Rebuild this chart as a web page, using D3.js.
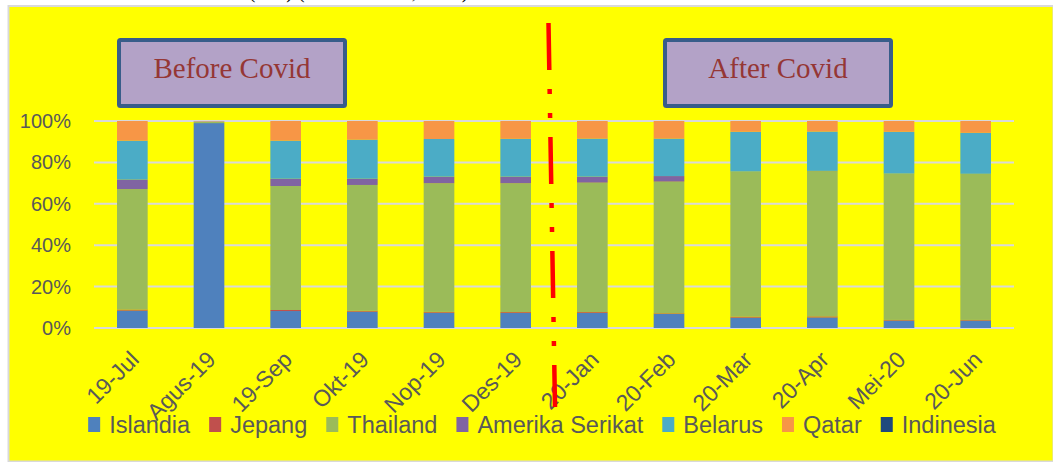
<!DOCTYPE html>
<html>
<head>
<meta charset="utf-8">
<script src="https://cdn.jsdelivr.net/npm/d3@7/dist/d3.min.js"></script>
<style>
  html, body { margin: 0; padding: 0; background: #ffffff; }
  svg { display: block; }
</style>
</head>
<body>
<svg id="chart" width="1053" height="462"></svg>
<script>
// ---------- data ----------
const categories = ["19-Jul", "Agus-19", "19-Sep", "Okt-19", "Nop-19", "Des-19",
                    "20-Jan", "20-Feb", "20-Mar", "20-Apr", "Mei-20", "20-Jun"];
const seriesNames = ["Islandia", "Jepang", "Thailand", "Amerika Serikat", "Belarus", "Qatar", "Indinesia"];
const islandia  = [8.4, 99.2, 8.2, 7.9, 7.4, 7.3, 7.3, 6.8, 5.0, 5.1, 3.6, 3.6];
const jepang    = [0.5, 0.0, 0.5, 0.4, 0.4, 0.4, 0.4, 0.3, 0.5, 0.5, 0.3, 0.3];
const thailand  = [58.2, 0.6, 59.9, 60.8, 62.1, 62.2, 62.5, 63.6, 70.0, 70.2, 70.6, 70.5];
const amerika   = [4.6, 0.1, 3.5, 3.0, 3.2, 3.2, 2.9, 2.7, 0.1, 0.1, 0.1, 0.1];
const belarus   = [18.8, 0.1, 18.4, 18.9, 18.2, 18.3, 18.4, 18.1, 19.2, 19.0, 20.2, 19.8];
const qatar     = [9.5, 0.2, 9.5, 9.0, 8.7, 8.6, 8.5, 8.5, 5.2, 5.1, 5.2, 5.7];
const indinesia = [0, 0, 0, 0, 0, 0, 0, 0, 0, 0, 0, 0];
const yTicks = [0, 20, 40, 60, 80, 100];
const periodLabels = ["Before Covid", "After Covid"];
const topNote = "Indonesia Tahun 2019-2020 (Ton) (Data Kuadrat, 2020)";

const seriesValues = [islandia, jepang, thailand, amerika, belarus, qatar, indinesia];
const colors = ["#4F81BD", "#C0504D", "#9BBB59", "#8064A2", "#4BACC6", "#F79646", "#1F497D"];

// ---------- layout ----------
const svg = d3.select("#chart");
const W = 1053, H = 462;
const plot = { left: 94, right: 1014, top: 121, bottom: 328 };

// page background + yellow chart area
svg.append("text")
  .attr("x", 20).attr("y", -2)
  .attr("font-family", "Liberation Serif, serif")
  .attr("font-size", 20).attr("fill", "#000")
  .text(topNote);
svg.append("rect")
  .attr("x", 8.5).attr("y", 6).attr("width", W - 8).attr("height", H - 6.5)
  .attr("fill", "#FFFF00").attr("stroke", "#D9D9D9").attr("stroke-width", 2);

// ---------- scales ----------
const x = d3.scaleBand().domain(categories).range([plot.left, plot.right]).paddingInner(0.6).paddingOuter(0.3);
const y = d3.scaleLinear().domain([0, 100]).range([plot.bottom, plot.top]);

// gridlines
svg.append("g").selectAll("line").data(yTicks).join("line")
  .attr("x1", plot.left).attr("x2", plot.right)
  .attr("y1", d => y(d)).attr("y2", d => y(d))
  .attr("stroke", "#D9D9D9").attr("stroke-width", 2);

// y axis labels
const yAxis = d3.axisLeft(y).tickValues(yTicks).tickFormat(d => d + "%").tickSize(0).tickPadding(0);
const yg = svg.append("g").attr("transform", `translate(71,0)`).call(yAxis);
yg.select(".domain").remove();
yg.selectAll("text")
  .attr("font-family", "Liberation Sans, Arial, sans-serif")
  .attr("font-size", 20).attr("fill", "#595959");

// ---------- stacked bars ----------
const table = categories.map((c, i) => {
  const row = { cat: c };
  seriesNames.forEach((s, k) => row[s] = seriesValues[k][i]);
  return row;
});
const stack = d3.stack().keys(seriesNames).offset(d3.stackOffsetExpand)(table);

svg.append("g").selectAll("g").data(stack).join("g")
  .attr("fill", (d, i) => colors[i])
  .selectAll("rect").data(d => d).join("rect")
  .attr("x", d => x(d.data.cat))
  .attr("width", x.bandwidth())
  .attr("y", d => y(d[1] * 100))
  .attr("height", d => Math.max(0, y(d[0] * 100) - y(d[1] * 100)));

// x axis labels (rotated)
const xAxis = d3.axisBottom(x).tickSize(0).tickPadding(0);
const xg = svg.append("g").attr("transform", `translate(0,0)`).call(xAxis);
xg.select(".domain").remove();
xg.selectAll(".tick line").remove();
xg.selectAll(".tick text")
  .attr("font-family", "Liberation Sans, Arial, sans-serif")
  .attr("font-size", 23).attr("fill", "#595959")
  .attr("text-anchor", "end")
  .attr("dy", null)
  .attr("y", null)
  .attr("transform", "translate(8,361) rotate(-45)");

// ---------- period boxes ----------
const bx = [{ l: 119, r: 345 }, { l: 665, r: 891 }];
periodLabels.forEach((label, i) => {
  const g = svg.append("g");
  g.append("rect")
    .attr("x", bx[i].l).attr("y", 40).attr("width", bx[i].r - bx[i].l).attr("height", 66)
    .attr("rx", 1.5)
    .attr("fill", "#B3A2C7").attr("stroke", "#385D8A").attr("stroke-width", 4);
  g.append("text")
    .attr("x", (bx[i].l + bx[i].r) / 2).attr("y", 78)
    .attr("text-anchor", "middle")
    .attr("font-family", "Liberation Serif, Times New Roman, serif")
    .attr("font-size", 29).attr("fill", "#953735")
    .text(label);
});

// ---------- red dash-dot-dot divider ----------
svg.append("line")
  .attr("x1", 548.5).attr("y1", 23).attr("x2", 555).attr("y2", 407)
  .attr("stroke", "#FF0000").attr("stroke-width", 4.5)
  .attr("stroke-dasharray", "47 19 5 19 5 19");

// ---------- legend ----------
const legend = svg.append("g");
const items = legend.selectAll("g").data(seriesNames).join("g");
items.append("rect").attr("width", 12).attr("height", 15).attr("y", -8)
  .attr("fill", (d, i) => colors[i]);
items.append("text")
  .attr("x", 21).attr("y", 0).attr("dy", "0.35em")
  .attr("font-family", "Liberation Sans, Arial, sans-serif")
  .attr("font-size", 23.5).attr("fill", "#595959")
  .text(d => d);
let cx = 0;
const gap = 19;
const offsets = [];
items.each(function () {
  const w = 21 + d3.select(this).select("text").node().getComputedTextLength();
  offsets.push(cx);
  cx += w + gap;
});
const total = cx - gap;
const startX = 542 - total / 2;
items.attr("transform", (d, i) => `translate(${startX + offsets[i]},425)`);
</script>
</body>
</html>
